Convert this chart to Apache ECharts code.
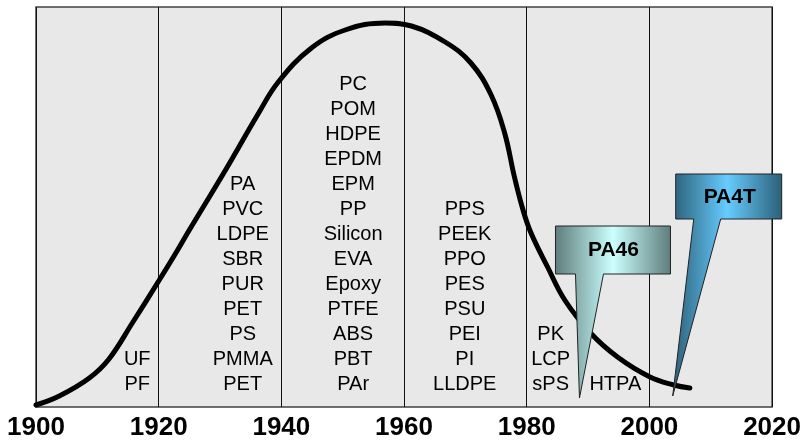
<!DOCTYPE html>
<html>
<head>
<meta charset="utf-8">
<script src="https://cdn.jsdelivr.net/npm/echarts@6/dist/echarts.min.js"></script>
<style>
  html, body { margin: 0; padding: 0; background: #fff; }
  #chart { width: 804px; height: 443px; }
</style>
</head>
<body>
<div id="chart"></div>
<script>
// curve: year vs relative activity (0-100)
const curveYears = [1900, 1903.8, 1908.7, 1911.9, 1915.7, 1920, 1922.8, 1924.9, 1930.9, 1936.3, 1939.5, 1944.9,
  1950.4, 1956.9, 1961.2, 1966.7, 1970.9, 1974.2, 1976.4, 1978, 1979.4, 1980.7, 1983.4, 1986.2,
  1990.4, 1994.8, 2000.1, 2004, 2006.6]
const curveValues = [0.5, 2.75, 7.25, 12, 21, 31.5, 38.5, 44, 59.25, 73.5, 81.25, 89.75,
  94.25, 96, 95.25, 91.25, 86, 78, 68.5, 57.5, 49.25, 43.5, 35, 26.75,
  18.5, 12.5, 7.5, 5.5, 4.75]

// polymer columns
const columnYears = [1916.5, 1933.7, 1951.7, 1969.9, 1983.9, 1994.45]
const columnNames = [
  ['UF', 'PF'],
  ['PA', 'PVC', 'LDPE', 'SBR', 'PUR', 'PET', 'PS', 'PMMA', 'PET'],
  ['PC', 'POM', 'HDPE', 'EPDM', 'EPM', 'PP', 'Silicon', 'EVA', 'Epoxy', 'PTFE', 'ABS', 'PBT', 'PAr'],
  ['PPS', 'PEEK', 'PPO', 'PES', 'PSU', 'PEI', 'PI', 'LLDPE'],
  ['PK', 'LCP', 'sPS'],
  ['HTPA']
]
const columnBase = 2.5

// callouts
const calloutNames = ['PA46', 'PA4T']
const calloutYears = [1988.6, 2003.8]
const calloutValues = [2.25, 2.75]

const xTicks = [1900, 1920, 1940, 1960, 1980, 2000, 2020]

// shape of each callout relative to its tip (px)
const calloutShapes = [
  { box: [-24, -172, 91, -124], tail: [-4, 24], text: [34, -148],
    colors: ['#5d7d7b', '#ccffff', '#5d7d7b'] },
  { box: [3, -222, 109, -177], tail: [21, 48], text: [57, -199],
    colors: ['#2b5f77', '#66ccff', '#2b5f77'] }
]

const chart = echarts.init(document.getElementById('chart'))

const option = {
  animation: false,
  backgroundColor: '#fff',
  textStyle: { fontFamily: 'Liberation Sans, Arial, sans-serif' },
  grid: {
    left: 36, right: 29, top: 7, bottom: 36,
    show: true,
    backgroundColor: '#e8e8e8',
    borderColor: '#404040',
    borderWidth: 1.5
  },
  xAxis: {
    type: 'value',
    min: 1900, max: 2020, interval: 20,
    axisLine: { show: false },
    axisTick: { show: false },
    splitLine: { show: true, lineStyle: { color: '#111', width: 1 } },
    axisLabel: {
      show: true,
      margin: 8,
      fontSize: 26,
      fontWeight: 'bold',
      color: '#000',
      fontFamily: 'Liberation Sans',
      formatter: v => xTicks.includes(v) ? String(v) : ''
    }
  },
  yAxis: {
    type: 'value',
    min: 0, max: 100,
    show: false,
    splitLine: { show: false }
  },
  series: [
    {
      type: 'scatter',
      symbolSize: 0,
      itemStyle: { color: '#000', opacity: 1 },
      silent: true,
      data: columnYears.map((y, i) => ({ value: [y, columnBase], names: columnNames[i] })),
      label: {
        show: true,
        position: 'top',
        distance: 0,
        align: 'center',
        fontSize: 20,
        lineHeight: 25,
        color: '#000',
        opacity: 1,
        fontFamily: 'Liberation Sans',
        formatter: p => p.data.names.join('\n')
      },
      z: 2
    },
    {
      type: 'line',
      data: curveYears.map((y, i) => [y, curveValues[i]]),
      smooth: 0.4,
      symbol: 'none',
      lineStyle: { color: '#000', width: 5, cap: 'round' },
      z: 3
    },
    {
      type: 'custom',
      clip: false,
      z: 4,
      data: calloutNames.map((n, i) => [calloutYears[i], calloutValues[i], n]),
      renderItem: function(params, api) {
        const tip = api.coord([api.value(0), api.value(1)])
        const s = calloutShapes[params.dataIndex]
        const [x0, y0, x1, y1] = s.box
        const pts = [
          [x0, y0], [x1, y0], [x1, y1], [s.tail[1], y1], [0, 0], [s.tail[0], y1], [x0, y1]
        ].map(p => [tip[0] + p[0], tip[1] + p[1]])
        return {
          type: 'group',
          children: [
            {
              type: 'polygon',
              shape: { points: pts },
              style: {
                fill: new echarts.graphic.LinearGradient(0, 0, 1, 0, [
                  { offset: 0, color: s.colors[0] },
                  { offset: 0.5, color: s.colors[1] },
                  { offset: 1, color: s.colors[2] }
                ]),
                stroke: '#222',
                lineWidth: 1
              }
            },
            {
              type: 'text',
              x: tip[0] + s.text[0],
              y: tip[1] + s.text[1],
              style: {
                text: calloutNames[params.dataIndex],
                fontSize: 21,
                fontWeight: 'bold',
                fontFamily: 'Liberation Sans',
                fill: '#000',
                align: 'center',
                verticalAlign: 'middle',
                textShadowColor: '#fff',
                textShadowOffsetX: 2,
                textShadowOffsetY: 2,
                textShadowBlur: 0
              }
            }
          ]
        }
      }
    }
  ]
}

chart.setOption(option)
</script>
</body>
</html>
